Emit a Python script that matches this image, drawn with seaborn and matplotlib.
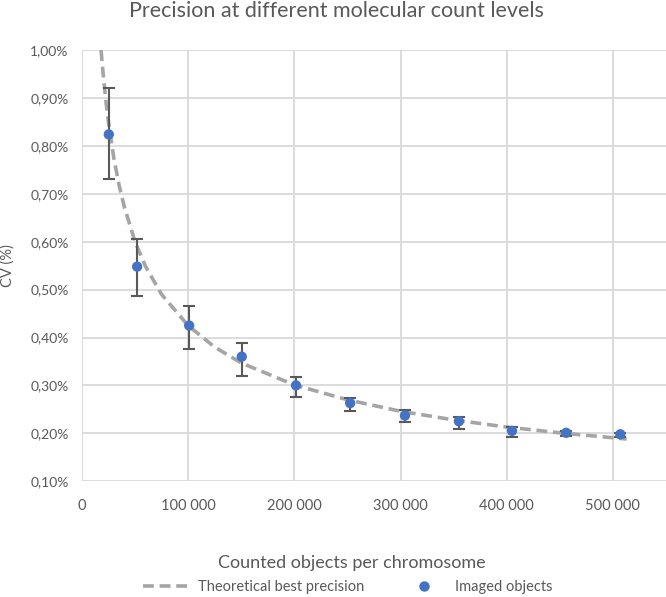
#import library
import numpy as np
import pandas as pd
import seaborn as sns
import matplotlib.pyplot as plt
from matplotlib.ticker import FuncFormatter, MultipleLocator
from matplotlib.lines import Line2D

#data
counts = [25300, 52000, 101000, 150500, 201600, 252600, 304200, 355000, 405000, 456000, 507000]
cv = [0.824, 0.548, 0.425, 0.360, 0.300, 0.263, 0.237, 0.225, 0.205, 0.201, 0.198]
err_up = [0.096, 0.057, 0.040, 0.028, 0.018, 0.011, 0.012, 0.008, 0.009, 0.004, 0.003]
err_down = [0.094, 0.061, 0.050, 0.040, 0.024, 0.017, 0.014, 0.015, 0.013, 0.006, 0.005]

#theoretical curve read along its path
theory_x = [18000, 20000, 22500, 25000, 30000, 35000, 40000, 50000, 60000, 75000, 100000,
            125000, 150000, 200000, 250000, 300000, 350000, 400000, 450000, 513000]
theory_y = [1.000, 0.950, 0.895, 0.850, 0.775, 0.718, 0.672, 0.600, 0.548, 0.490, 0.425,
            0.380, 0.347, 0.301, 0.270, 0.246, 0.228, 0.213, 0.201, 0.188]

grey = '#595959'
sns.set_style('white')
plt.rcParams['font.family'] = ['Lato', 'DejaVu Sans']

fig = plt.figure(figsize=(6.66, 5.97), dpi=100)
ax = fig.add_axes([0.123, 0.194, 0.877, 0.722])

theory = pd.DataFrame({'x': theory_x, 'y': theory_y})
points = pd.DataFrame({'x': counts, 'y': cv})

sns.lineplot(data=theory, x='x', y='y', ax=ax, color='#a5a5a5', lw=2.6,
             dashes=False, linestyle=(0, (3, 1.6)), zorder=3)
ax.errorbar(counts, cv, yerr=[err_down, err_up], fmt='none', ecolor=grey,
            elinewidth=1.5, capsize=4, capthick=1.5, zorder=4)
sns.scatterplot(data=points, x='x', y='y', ax=ax, color='#4472c4', s=55,
                edgecolor='none', zorder=5)

ax.set_xlim(0, 550000)
ax.set_ylim(0.10, 1.00)
ax.xaxis.set_major_locator(MultipleLocator(100000))
ax.yaxis.set_major_locator(MultipleLocator(0.10))
ax.xaxis.set_major_formatter(FuncFormatter(lambda v, p: f'{int(v):,}'.replace(',', ' ') if v <= 500000 else ''))
ax.yaxis.set_major_formatter(FuncFormatter(lambda v, p: f'{v:.2f}%'.replace('.', ',')))
ax.grid(True, color='#d9d9d9', lw=1.3)
ax.set_axisbelow(True)
for s in ax.spines.values():
    s.set_visible(False)
ax.tick_params(axis='both', length=0, colors=grey, labelsize=10.5)
ax.tick_params(axis='y', labelsize=10, pad=9.5)
ax.tick_params(axis='x', pad=13)
ax.set_xlabel('')
ax.set_ylabel('')

fig.text(0.505, 0.981, 'Precision at different molecular count levels', ha='center', va='center',
         fontsize=15.5, color=grey)
fig.text(0.528, 0.057, 'Counted objects per chromosome', ha='center', va='center',
         fontsize=13, color=grey)
fig.text(0.012, 0.556, 'CV (%)', ha='center', va='center', rotation=90, fontsize=10.5, color=grey)

#legend
handles = [Line2D([], [], color='#a5a5a5', lw=2.6, linestyle=(0, (3, 1.6))),
           Line2D([], [], color='#4472c4', marker='o', ls='none', markersize=7.5, markeredgewidth=0)]
fig.legend(handles, ['Theoretical best precision', 'Imaged objects'], loc='center',
           bbox_to_anchor=(0.522, 0.016), ncol=2, frameon=False, fontsize=10.5,
           labelcolor=grey, handlelength=3.4, columnspacing=2.4, handletextpad=0.4)

plt.savefig('out.png', dpi=100)
